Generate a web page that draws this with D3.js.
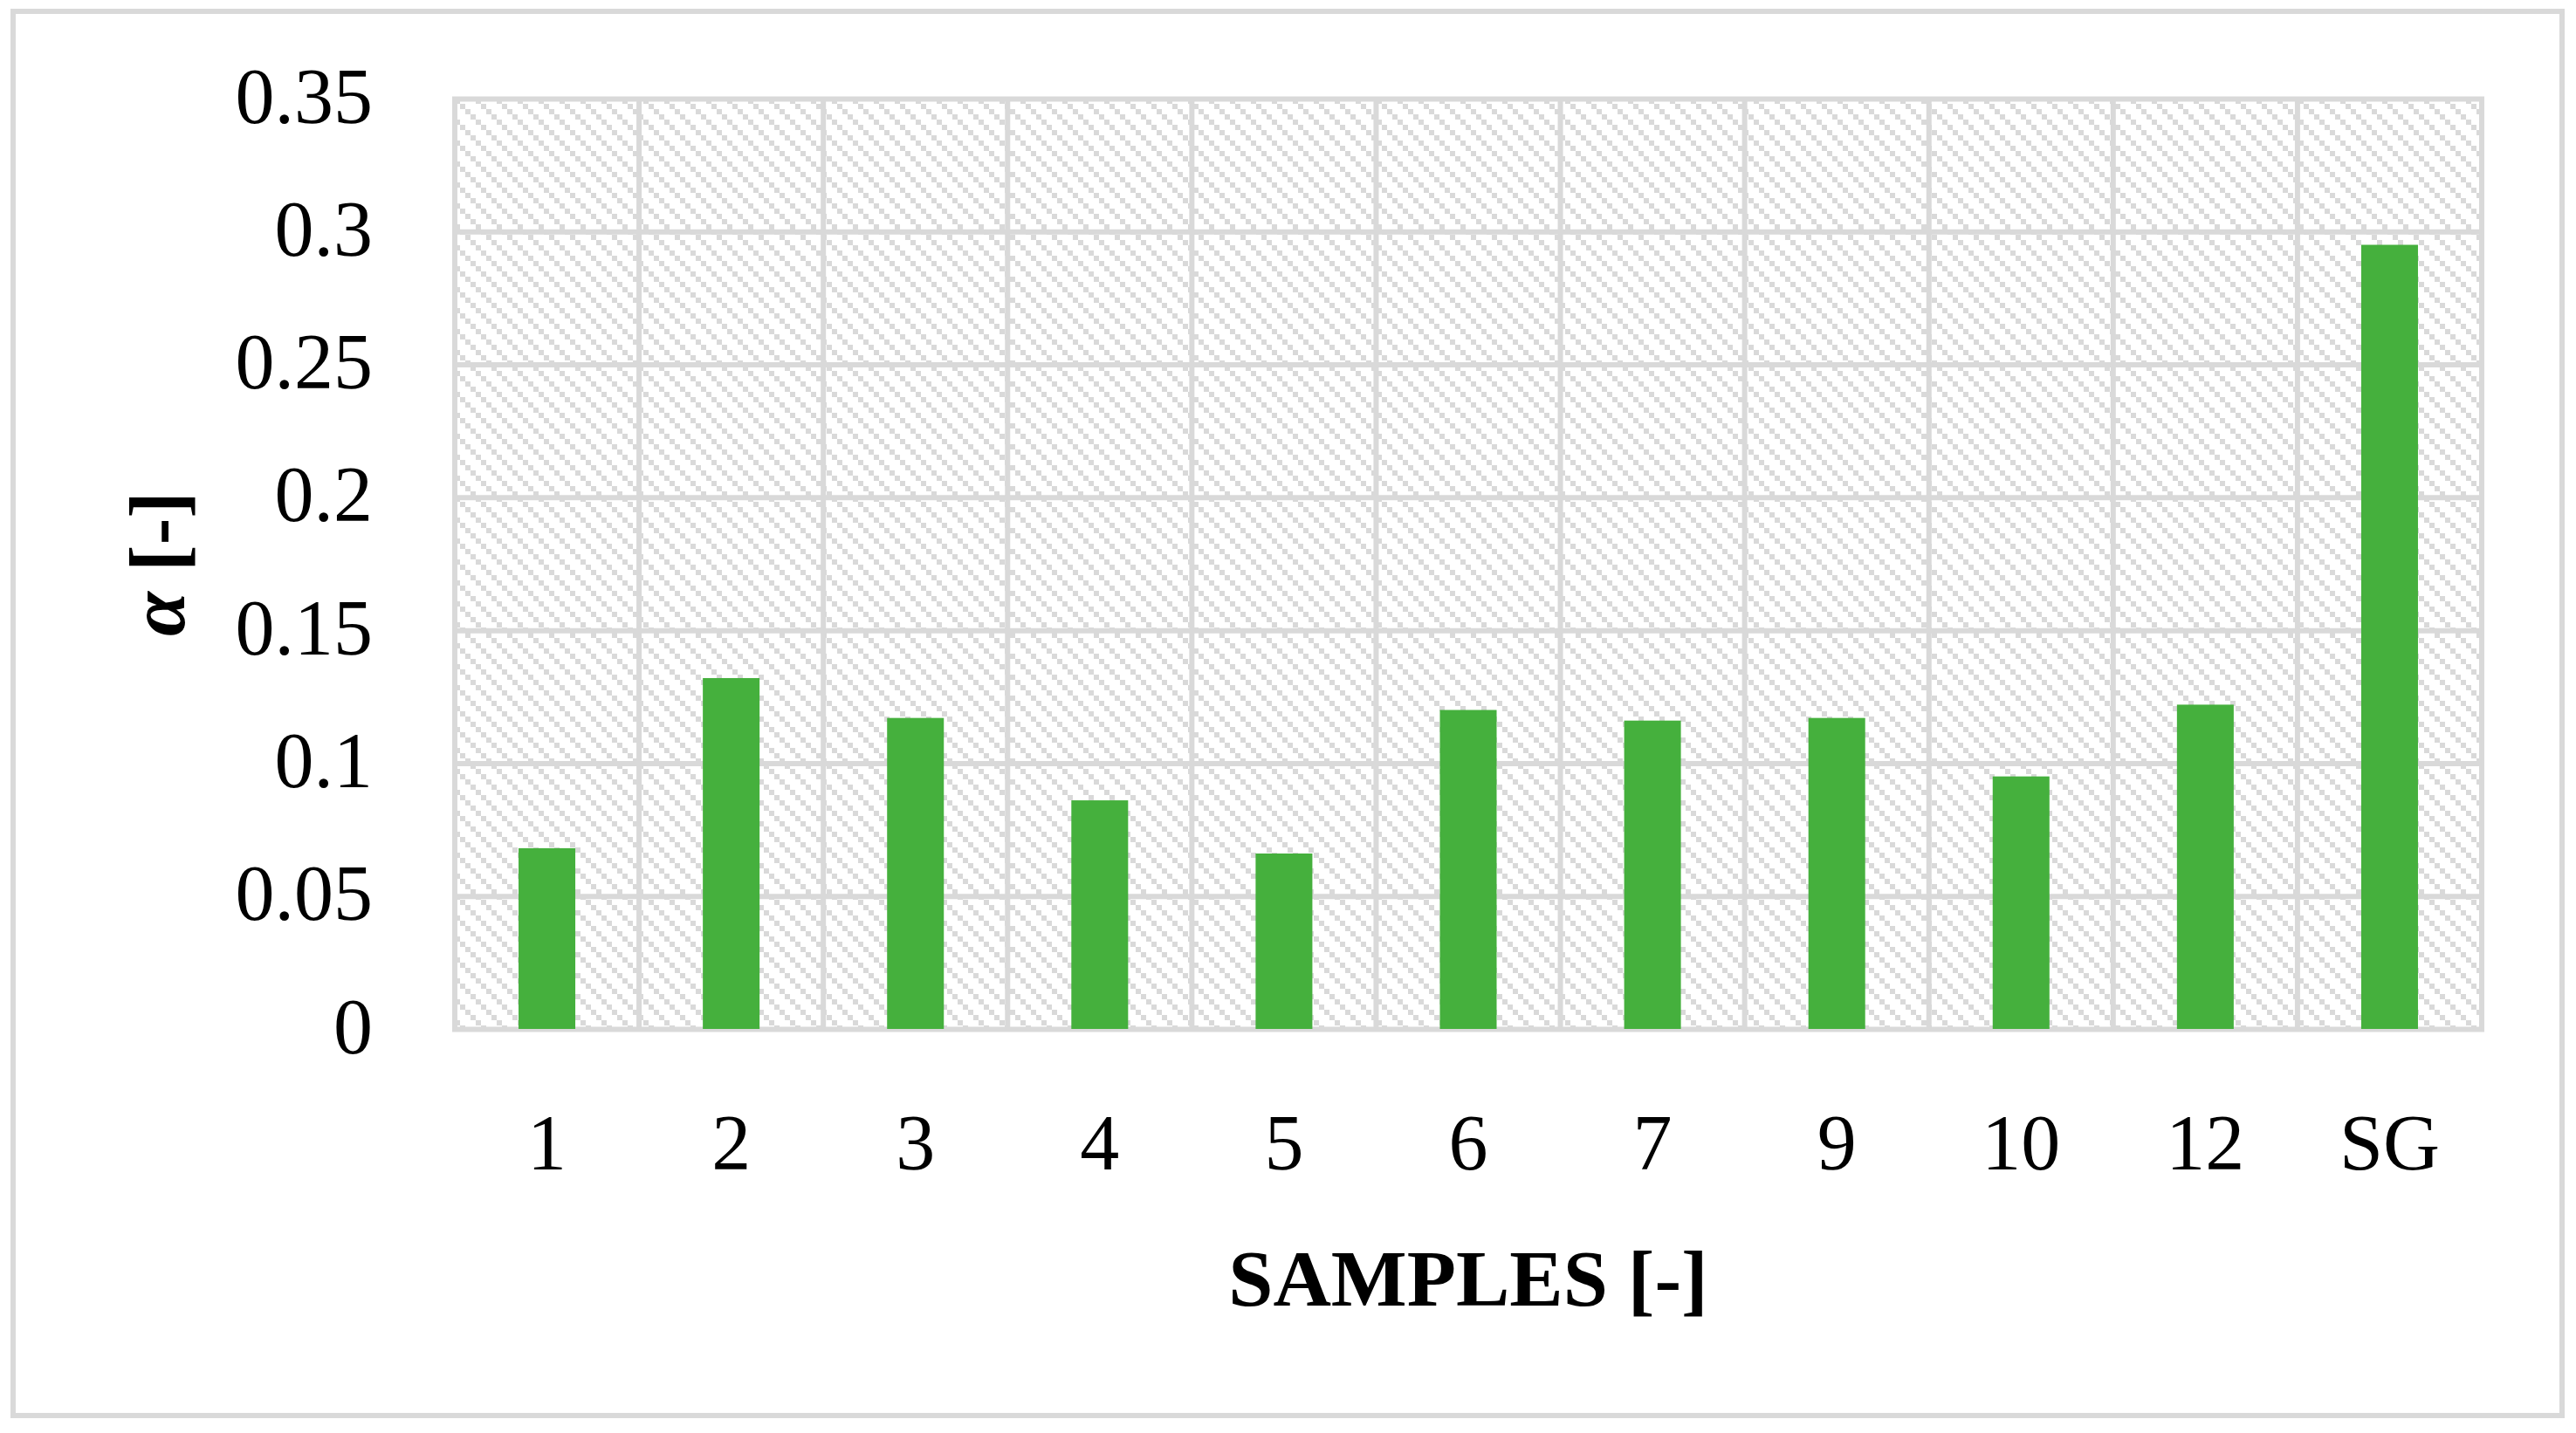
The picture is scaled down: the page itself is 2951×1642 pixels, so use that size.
<!DOCTYPE html>
<html>
<head>
<meta charset="utf-8">
<script src="https://cdn.jsdelivr.net/npm/d3@7"></script>
<style>
  html, body { margin: 0; padding: 0; background: #ffffff; }
  svg { display: block; }
</style>
</head>
<body>
<div id="chart"></div>
<script>
// ---- data ----
const categories = ["1", "2", "3", "4", "5", "6", "7", "9", "10", "12", "SG"];
const alphaValues = [0.068, 0.132, 0.117, 0.086, 0.066, 0.120, 0.116, 0.117, 0.095, 0.122, 0.295];
const yTickValues = [0, 0.05, 0.1, 0.15, 0.2, 0.25, 0.3, 0.35];
const yTickLabels = ["0", "0.05", "0.1", "0.15", "0.2", "0.25", "0.3", "0.35"];
const xTitle = "SAMPLES [-]";
const yTitle = "α [-]";

// ---- layout ----
const W = 2951, H = 1642;
const plot = { left: 521, right: 2843, top: 113, bottom: 1179 };
const grid = "#d9d9d9";
const barColor = "#45b03d";
const fontFamily = "'Liberation Serif', 'Times New Roman', serif";

const svg = d3.select("#chart").append("svg")
  .attr("width", W).attr("height", H);

// outer frame
svg.append("rect")
  .attr("x", 15).attr("y", 13).attr("width", 2920).attr("height", 1609)
  .attr("fill", "#ffffff").attr("stroke", grid).attr("stroke-width", 6);

// hatch pattern
const defs = svg.append("defs");
const tile = 24;
const pat = defs.append("pattern")
  .attr("id", "hatch").attr("patternUnits", "userSpaceOnUse")
  .attr("width", tile).attr("height", tile)
  .attr("x", plot.left).attr("y", plot.top);
pat.append("rect").attr("width", tile).attr("height", tile).attr("fill", "#ffffff");
[0, 6, 12, 18].forEach(o => {
  pat.append("rect").attr("x", o).attr("y", o).attr("width", 6).attr("height", 6)
    .attr("fill", grid).attr("shape-rendering", "crispEdges");
});

const x = d3.scaleBand()
  .domain(categories)
  .range([plot.left, plot.right])
  .paddingInner(0.692)
  .paddingOuter(0.346);

const y = d3.scaleLinear()
  .domain([0, 0.35])
  .range([plot.bottom, plot.top]);

// plot background hatch
svg.append("rect")
  .attr("x", plot.left).attr("y", plot.top)
  .attr("width", plot.right - plot.left).attr("height", plot.bottom - plot.top)
  .attr("fill", "url(#hatch)");

// vertical gridlines at category boundaries
const step = x.step();
const offset = (step - x.bandwidth()) / 2;
const boundaries = categories.map(c => x(c) - offset).concat([x(categories[categories.length - 1]) - offset + step]);
svg.append("g").selectAll("line").data(boundaries).join("line")
  .attr("x1", d => d).attr("x2", d => d)
  .attr("y1", plot.top).attr("y2", plot.bottom)
  .attr("stroke", grid).attr("stroke-width", 6);

// y axis with horizontal gridlines
const yAxis = d3.axisLeft(y)
  .tickValues(yTickValues)
  .tickFormat((d, i) => yTickLabels[i])
  .tickSize(-(plot.right - plot.left))
  .tickPadding(94);
const gy = svg.append("g")
  .attr("transform", `translate(${plot.left},0)`)
  .call(yAxis);
gy.select(".domain").remove();
gy.selectAll(".tick line").attr("stroke", grid).attr("stroke-width", 6)
  .attr("x1", -3).attr("x2", plot.right - plot.left + 3);
gy.selectAll(".tick text")
  .attr("fill", "#000").attr("font-family", fontFamily).attr("font-size", 90)
  .attr("dy", "0.30em");

// bars
svg.append("g").selectAll("rect").data(alphaValues).join("rect")
  .attr("x", (d, i) => x(categories[i]))
  .attr("y", d => y(d))
  .attr("width", x.bandwidth())
  .attr("height", d => y(0) - y(d))
  .attr("fill", barColor);

// x axis labels
const xAxis = d3.axisBottom(x).tickSize(0).tickPadding(0);
const gx = svg.append("g")
  .attr("transform", `translate(0,${plot.bottom})`)
  .call(xAxis);
gx.select(".domain").remove();
gx.selectAll(".tick text")
  .attr("fill", "#000").attr("font-family", fontFamily).attr("font-size", 90)
  .attr("y", 161).attr("dy", 0);

// axis titles
svg.append("text")
  .attr("x", (plot.left + plot.right) / 2).attr("y", 1496)
  .attr("text-anchor", "middle")
  .attr("font-family", fontFamily).attr("font-size", 92).attr("font-weight", "bold")
  .attr("fill", "#000")
  .text(xTitle);

const yt = svg.append("text")
  .attr("transform", `translate(211,${(plot.top + plot.bottom) / 2}) rotate(-90)`)
  .attr("text-anchor", "middle")
  .attr("font-family", fontFamily).attr("font-size", 92).attr("font-weight", "bold")
  .attr("fill", "#000");
yt.append("tspan").attr("font-style", "italic").text(yTitle.slice(0, 1));
yt.append("tspan").text(yTitle.slice(1));
</script>
</body>
</html>
